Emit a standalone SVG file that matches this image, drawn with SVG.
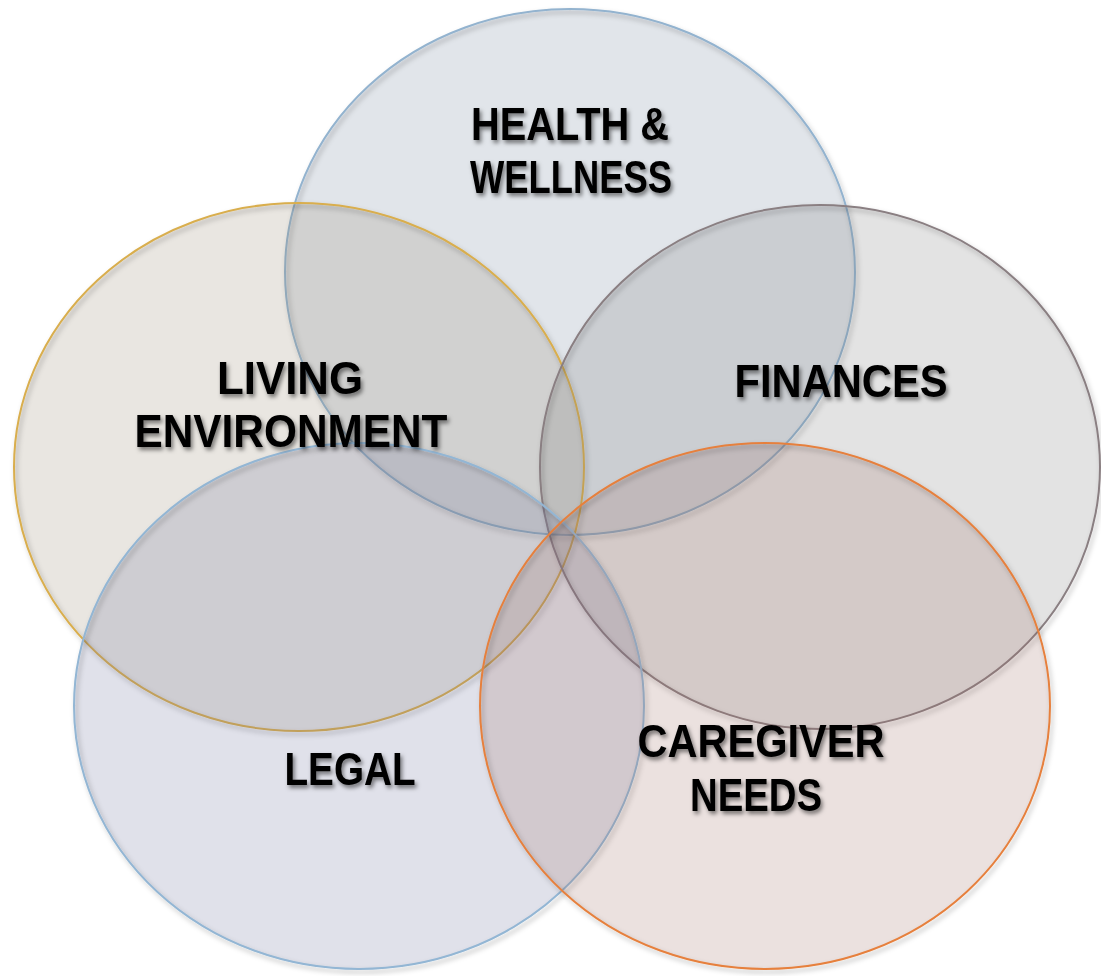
<svg xmlns="http://www.w3.org/2000/svg" width="1101" height="976" viewBox="0 0 1101 976">
<defs>
<filter id="sh" x="-10%" y="-10%" width="120%" height="120%">
<feDropShadow dx="2" dy="3" stdDeviation="2.5" flood-color="#000" flood-opacity="0.3"/>
</filter>
<filter id="tsh" x="-10%" y="-20%" width="120%" height="150%">
<feDropShadow dx="2" dy="3" stdDeviation="2" flood-color="#000" flood-opacity="0.5"/>
</filter>
</defs>
<style>
.f{stroke:none;fill-opacity:0.2}
.s{fill:none;stroke-width:2;filter:url(#sh)}
.t{font-family:"Liberation Sans",Arial,sans-serif;font-weight:bold;font-size:46px;fill:#000;text-anchor:middle}
</style>
<rect width="1101" height="976" fill="#fff"/>
<g id="health"><ellipse class="f" cx="570" cy="272" rx="285" ry="263" fill="#6a7f95"/><ellipse class="s" cx="570" cy="272" rx="285" ry="263" stroke="#93b3cf"/></g>
<g id="living"><ellipse class="f" cx="299" cy="467" rx="285" ry="264" fill="#918269"/><ellipse class="s" cx="299" cy="467" rx="285" ry="264" stroke="#d9ae4e"/></g>
<g id="finances"><ellipse class="f" cx="820" cy="467" rx="280" ry="262" fill="#737373"/><ellipse class="s" cx="820" cy="467" rx="280" ry="262" stroke="#8a7f82"/></g>
<g id="legal"><ellipse class="f" cx="359" cy="706" rx="285" ry="263" fill="#646996"/><ellipse class="s" cx="359" cy="706" rx="285" ry="263" stroke="#93b6d4"/></g>
<g id="caregiver"><ellipse class="f" cx="765" cy="706" rx="285" ry="263" fill="#9b695f"/><ellipse class="s" cx="765" cy="706" rx="285" ry="263" stroke="#e6803e"/></g>
<g id="labels" filter="url(#tsh)">
<text class="t" x="570" y="140" textLength="198" lengthAdjust="spacingAndGlyphs">HEALTH &amp;</text>
<text class="t" x="571" y="193" textLength="202" lengthAdjust="spacingAndGlyphs">WELLNESS</text>
<text class="t" x="290" y="394" textLength="146" lengthAdjust="spacingAndGlyphs">LIVING</text>
<text class="t" x="291" y="447" textLength="313" lengthAdjust="spacingAndGlyphs">ENVIRONMENT</text>
<text class="t" x="841" y="397" textLength="213" lengthAdjust="spacingAndGlyphs">FINANCES</text>
<text class="t" x="350" y="785" textLength="131" lengthAdjust="spacingAndGlyphs">LEGAL</text>
<text class="t" x="761" y="757" textLength="247" lengthAdjust="spacingAndGlyphs">CAREGIVER</text>
<text class="t" x="756" y="811" textLength="132" lengthAdjust="spacingAndGlyphs">NEEDS</text>
</g>
</svg>
